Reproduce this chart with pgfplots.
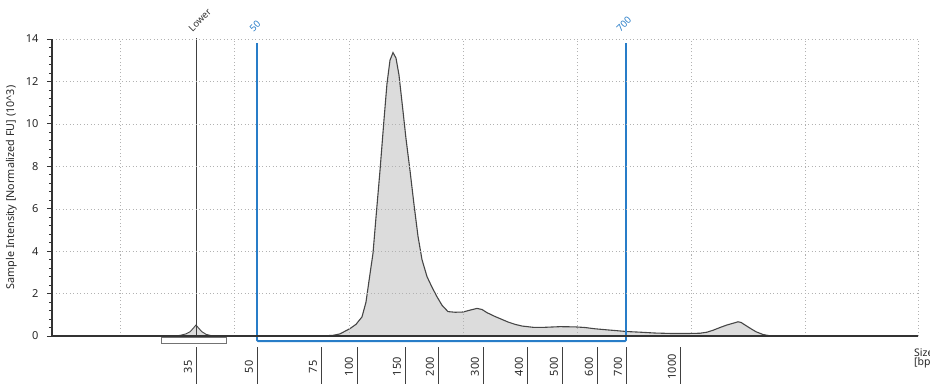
\documentclass[border=0pt]{standalone}
\usepackage{fontspec}
\setmainfont{Noto Sans}
\usepackage{pgfplots}
\pgfplotsset{compat=1.18}
\definecolor{bl}{RGB}{40,125,200}
\definecolor{crv}{RGB}{70,70,70}
\definecolor{fil}{RGB}{220,220,220}
\begin{document}
\begin{tikzpicture}
\path (0,0) rectangle (930pt,383pt);
\begin{axis}[
 at={(52pt,47pt)}, anchor=south west,
 scale only axis, width=866pt, height=297pt,
 xmin=52, xmax=918, ymin=0, ymax=14,
 axis x line*=bottom, axis y line*=left,
 axis line style={line width=1.4pt, color=black!80},
 xtick={120,234,349,463,577,691,805,918}, xticklabels={},
 xmajorgrids, ymajorgrids,
 major x tick style={draw=none},
 ytick={0,2,...,14},
 minor y tick num=4,
 tick align=outside,
 major tick length=5pt, minor tick length=3pt,
 y tick style={black!80, line width=0.8pt},
 grid style={black!30, dash pattern=on 1pt off 2.5pt},
 yticklabel style={font=\fontsize{11}{13}\selectfont, color=black!85, xshift=-5pt},
 /pgf/number format/assume math mode=true,
 ylabel={Sample Intensity [Normalized FU] (10\textasciicircum3)},
 ylabel style={at={(axis description cs:-0.047,0.5)}, anchor=center, font=\fontsize{10.8}{12}\selectfont, color=black!85},
 clip=false,
 axis on top,
]
% main electropherogram
\addplot[draw=crv, line width=1.1pt, fill=fil] table {
x y
52 0
320 0
333 0.03
340 0.1
350 0.35
356 0.55
362 0.9
366 1.6
369 2.6
373 3.9
376 5.6
380 7.8
384 10.2
387 11.9
390 13.0
393 13.36
396 13.1
399 12.3
403 10.6
406 9.3
410 7.8
414 6.2
418 4.7
422 3.6
427 2.8
432 2.3
437 1.85
442 1.45
448 1.15
455 1.12
463 1.13
470 1.22
477 1.3
482 1.25
487 1.1
495 0.92
502 0.78
508 0.66
515 0.55
522 0.47
533 0.41
545 0.41
560 0.44
575 0.43
585 0.40
595 0.34
607 0.29
617 0.25
627 0.21
640 0.18
655 0.14
670 0.12
690 0.12
700 0.13
707 0.18
713 0.27
720 0.4
727 0.52
733 0.6
738 0.67
741 0.64
745 0.52
750 0.37
756 0.2
763 0.07
770 0.01
780 0
918 0
} \closedcycle;
% lower marker peak
\addplot[draw=crv, line width=0.9pt, fill=fil] table {
x y
172 0
180 0.03
186 0.1
190 0.2
193 0.35
196 0.52
199 0.35
202 0.2
206 0.08
212 0.01
220 0
} \closedcycle;
% lower marker line and bracket
\draw[black!75, line width=0.9pt] (axis cs:196,0) -- (axis cs:196,14.05);
\draw[black!55, line width=0.8pt, fill=white] (axis cs:161,-0.05) rectangle (axis cs:226,-0.33);
% blue range bracket
\draw[bl, line width=1.9pt, rounded corners=1pt] (axis cs:257,13.81) -- (axis cs:257,-0.24) -- (axis cs:626,-0.24) -- (axis cs:626,13.81);
% top labels
\node[rotate=45, anchor=west, inner sep=0pt, font=\fontsize{9.5}{10}\selectfont, text=black!80] at (axis cs:190,14.42) {Lower};
\node[rotate=45, anchor=west, inner sep=0pt, font=\fontsize{9.5}{10}\selectfont, text=bl] at (axis cs:251,14.42) {50};
\node[rotate=45, anchor=west, inner sep=0pt, font=\fontsize{9.5}{10}\selectfont, text=bl] at (axis cs:618,14.42) {700};
% bottom size ticks
\draw[black!75, line width=0.9pt] (axis cs:196,-0.52) -- (axis cs:196,-2.25);
\draw[black!75, line width=0.9pt] (axis cs:257,-0.52) -- (axis cs:257,-2.25);
\draw[black!75, line width=0.9pt] (axis cs:321,-0.52) -- (axis cs:321,-2.25);
\draw[black!75, line width=0.9pt] (axis cs:357,-0.52) -- (axis cs:357,-2.25);
\draw[black!75, line width=0.9pt] (axis cs:405,-0.52) -- (axis cs:405,-2.25);
\draw[black!75, line width=0.9pt] (axis cs:438,-0.52) -- (axis cs:438,-2.25);
\draw[black!75, line width=0.9pt] (axis cs:483,-0.52) -- (axis cs:483,-2.25);
\draw[black!75, line width=0.9pt] (axis cs:527,-0.52) -- (axis cs:527,-2.25);
\draw[black!75, line width=0.9pt] (axis cs:562,-0.52) -- (axis cs:562,-2.25);
\draw[black!75, line width=0.9pt] (axis cs:597,-0.52) -- (axis cs:597,-2.25);
\draw[black!75, line width=0.9pt] (axis cs:626,-0.52) -- (axis cs:626,-2.25);
\draw[black!75, line width=0.9pt] (axis cs:680,-0.52) -- (axis cs:680,-2.25);
\begin{scope}[every node/.style={rotate=90, anchor=center, inner sep=0pt, font=\fontsize{11}{12}\selectfont, text=black!85}]
\node at (axis cs:188,-1.45) {35};
\node at (axis cs:249,-1.45) {50};
\node at (axis cs:313,-1.45) {75};
\node at (axis cs:349,-1.45) {100};
\node at (axis cs:397,-1.45) {150};
\node at (axis cs:430,-1.45) {200};
\node at (axis cs:475,-1.45) {300};
\node at (axis cs:519,-1.45) {400};
\node at (axis cs:554,-1.45) {500};
\node at (axis cs:589,-1.45) {600};
\node at (axis cs:618,-1.45) {700};
\node at (axis cs:672,-1.45) {1000};
\end{scope}
\node[overlay, anchor=west, inner sep=0pt, font=\fontsize{10.5}{11}\selectfont, text=black!85] at (axis cs:914,-0.77) {Size};
\node[overlay, anchor=west, inner sep=0pt, font=\fontsize{10.5}{11}\selectfont, text=black!85] at (axis cs:914,-1.25) {[bp]};
\end{axis}
\end{tikzpicture}
\end{document}
